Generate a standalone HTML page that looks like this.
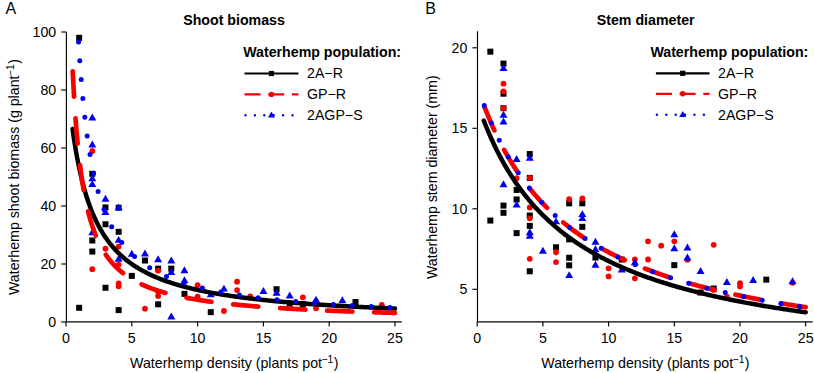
<!DOCTYPE html>
<html><head><meta charset="utf-8"><style>html,body{margin:0;padding:0;background:#fff;width:814px;height:373px;overflow:hidden}svg text{font-family:"Liberation Sans",sans-serif}</style></head><body>
<svg width="814" height="373" viewBox="0 0 814 373" style="display:block">
<rect width="814" height="373" fill="#fff"/>
<defs><clipPath id="ca"><rect x="66" y="31.8" width="336" height="290.2"/></clipPath><clipPath id="cb"><rect x="477.2" y="31.3" width="335.4" height="290.7"/></clipPath></defs>
<text x="5.6" y="14"  font-size="16">A</text>
<text x="425.2" y="14"  font-size="16">B</text>
<text x="183.2" y="24.5"  font-size="14.2" font-weight="bold">Shoot biomass</text>
<text x="596.8" y="24.8"  font-size="14.2" font-weight="bold">Stem diameter</text>
<path d="M66.40 31.80V321.80H401.80" fill="none" stroke="#000" stroke-width="1.15"/>
<line x1="66.00" y1="321.80" x2="66.00" y2="326.40" stroke="#000" stroke-width="1.15"/>
<text x="66.00" y="342.6" text-anchor="middle"  font-size="14.2">0</text>
<line x1="131.80" y1="321.80" x2="131.80" y2="326.40" stroke="#000" stroke-width="1.15"/>
<text x="131.80" y="342.6" text-anchor="middle"  font-size="14.2">5</text>
<line x1="197.60" y1="321.80" x2="197.60" y2="326.40" stroke="#000" stroke-width="1.15"/>
<text x="197.60" y="342.6" text-anchor="middle"  font-size="14.2">10</text>
<line x1="263.40" y1="321.80" x2="263.40" y2="326.40" stroke="#000" stroke-width="1.15"/>
<text x="263.40" y="342.6" text-anchor="middle"  font-size="14.2">15</text>
<line x1="329.20" y1="321.80" x2="329.20" y2="326.40" stroke="#000" stroke-width="1.15"/>
<text x="329.20" y="342.6" text-anchor="middle"  font-size="14.2">20</text>
<line x1="395.00" y1="321.80" x2="395.00" y2="326.40" stroke="#000" stroke-width="1.15"/>
<text x="395.00" y="342.6" text-anchor="middle"  font-size="14.2">25</text>
<line x1="61.20" y1="322.00" x2="66.00" y2="322.00" stroke="#000" stroke-width="1.15"/>
<text x="56.20" y="326.90" text-anchor="end"  font-size="14.2">0</text>
<line x1="61.20" y1="264.00" x2="66.00" y2="264.00" stroke="#000" stroke-width="1.15"/>
<text x="56.20" y="268.90" text-anchor="end"  font-size="14.2">20</text>
<line x1="61.20" y1="206.00" x2="66.00" y2="206.00" stroke="#000" stroke-width="1.15"/>
<text x="56.20" y="210.90" text-anchor="end"  font-size="14.2">40</text>
<line x1="61.20" y1="148.00" x2="66.00" y2="148.00" stroke="#000" stroke-width="1.15"/>
<text x="56.20" y="152.90" text-anchor="end"  font-size="14.2">60</text>
<line x1="61.20" y1="90.00" x2="66.00" y2="90.00" stroke="#000" stroke-width="1.15"/>
<text x="56.20" y="94.90" text-anchor="end"  font-size="14.2">80</text>
<line x1="61.20" y1="32.00" x2="66.00" y2="32.00" stroke="#000" stroke-width="1.15"/>
<text x="56.20" y="36.90" text-anchor="end"  font-size="14.2">100</text>
<path d="M477.50 31.30V321.80H812.60" fill="none" stroke="#000" stroke-width="1.15"/>
<line x1="477.20" y1="321.80" x2="477.20" y2="326.40" stroke="#000" stroke-width="1.15"/>
<text x="477.20" y="342.6" text-anchor="middle"  font-size="14.2">0</text>
<line x1="542.90" y1="321.80" x2="542.90" y2="326.40" stroke="#000" stroke-width="1.15"/>
<text x="542.90" y="342.6" text-anchor="middle"  font-size="14.2">5</text>
<line x1="608.60" y1="321.80" x2="608.60" y2="326.40" stroke="#000" stroke-width="1.15"/>
<text x="608.60" y="342.6" text-anchor="middle"  font-size="14.2">10</text>
<line x1="674.30" y1="321.80" x2="674.30" y2="326.40" stroke="#000" stroke-width="1.15"/>
<text x="674.30" y="342.6" text-anchor="middle"  font-size="14.2">15</text>
<line x1="740.00" y1="321.80" x2="740.00" y2="326.40" stroke="#000" stroke-width="1.15"/>
<text x="740.00" y="342.6" text-anchor="middle"  font-size="14.2">20</text>
<line x1="805.70" y1="321.80" x2="805.70" y2="326.40" stroke="#000" stroke-width="1.15"/>
<text x="805.70" y="342.6" text-anchor="middle"  font-size="14.2">25</text>
<line x1="472.40" y1="289.30" x2="477.20" y2="289.30" stroke="#000" stroke-width="1.15"/>
<text x="467.40" y="294.20" text-anchor="end"  font-size="14.2">5</text>
<line x1="472.40" y1="208.80" x2="477.20" y2="208.80" stroke="#000" stroke-width="1.15"/>
<text x="467.40" y="213.70" text-anchor="end"  font-size="14.2">10</text>
<line x1="472.40" y1="128.30" x2="477.20" y2="128.30" stroke="#000" stroke-width="1.15"/>
<text x="467.40" y="133.20" text-anchor="end"  font-size="14.2">15</text>
<line x1="472.40" y1="47.80" x2="477.20" y2="47.80" stroke="#000" stroke-width="1.15"/>
<text x="467.40" y="52.70" text-anchor="end"  font-size="14.2">20</text>
<text x="130.1" y="368"  font-size="14.2">Waterhemp density (plants pot<tspan font-size="10.4" dx="-0.6" dy="-5.4">−1</tspan><tspan dx="0.4" dy="5.4">)</tspan></text>
<text x="541.3" y="368"  font-size="14.2">Waterhemp density (plants pot<tspan font-size="10.4" dx="-0.6" dy="-5.4">−1</tspan><tspan dx="0.4" dy="5.4">)</tspan></text>
<text transform="translate(19,295) rotate(-90)"  font-size="14.2">Waterhemp shoot biomass (g plant<tspan font-size="10.4" dx="-0.6" dy="-5.4">−1</tspan><tspan dx="0.4" dy="5.4">)</tspan></text>
<text transform="translate(437,279) rotate(-90)"  font-size="14.2">Waterhemp stem diameter (mm)</text>
<text x="243.2" y="56.9"  font-size="14.2" font-weight="bold">Waterhemp population:</text>
<line x1="244.5" y1="73.5" x2="298.4" y2="73.5" stroke="#000" stroke-width="2.2"/>
<rect x="268.85" y="70.90" width="5.2" height="5.2" fill="#000"/>
<line x1="244.5" y1="94.4" x2="298.4" y2="94.4" stroke="#f80000" stroke-width="2.2" stroke-dasharray="16 7.7"/>
<circle cx="271.45" cy="94.40" r="2.7" fill="#f80000"/>
<line x1="245.5" y1="115.2" x2="298.4" y2="115.2" stroke="#0000ee" stroke-width="2.4" stroke-linecap="round" stroke-dasharray="0 9.4"/>
<path d="M271.45 111.44L274.95 117.50L267.95 117.50Z" fill="#0000ee"/>
<text x="307" y="78.2"  font-size="14.2">2A−R</text>
<text x="307" y="99.1"  font-size="14.2">GP−R</text>
<text x="307" y="119.9"  font-size="14.2">2AGP−S</text>
<text x="650.4" y="56.9"  font-size="14.2" font-weight="bold">Waterhemp population:</text>
<line x1="655.9" y1="73.3" x2="709.5" y2="73.3" stroke="#000" stroke-width="2.2"/>
<rect x="680.10" y="70.70" width="5.2" height="5.2" fill="#000"/>
<line x1="655.9" y1="93.8" x2="709.5" y2="93.8" stroke="#f80000" stroke-width="2.2" stroke-dasharray="16 7.7"/>
<circle cx="682.70" cy="93.80" r="2.7" fill="#f80000"/>
<line x1="656.9" y1="114.8" x2="709.5" y2="114.8" stroke="#0000ee" stroke-width="2.4" stroke-linecap="round" stroke-dasharray="0 9.4"/>
<path d="M682.70 111.04L686.20 117.10L679.20 117.10Z" fill="#0000ee"/>
<text x="718" y="78.0"  font-size="14.2">2A−R</text>
<text x="718" y="98.5"  font-size="14.2">GP−R</text>
<text x="718" y="119.5"  font-size="14.2">2AGP−S</text>
<g clip-path="url(#ca)">
<rect x="76.16" y="34.80" width="6.0" height="6.0" fill="#000"/>
<rect x="76.16" y="304.79" width="6.0" height="6.0" fill="#000"/>
<rect x="89.32" y="170.81" width="6.0" height="6.0" fill="#000"/>
<rect x="89.32" y="237.51" width="6.0" height="6.0" fill="#000"/>
<rect x="89.32" y="248.53" width="6.0" height="6.0" fill="#000"/>
<rect x="102.48" y="204.45" width="6.0" height="6.0" fill="#000"/>
<rect x="102.48" y="221.27" width="6.0" height="6.0" fill="#000"/>
<rect x="102.48" y="284.78" width="6.0" height="6.0" fill="#000"/>
<rect x="115.64" y="204.74" width="6.0" height="6.0" fill="#000"/>
<rect x="115.64" y="228.81" width="6.0" height="6.0" fill="#000"/>
<rect x="115.64" y="307.11" width="6.0" height="6.0" fill="#000"/>
<rect x="128.80" y="272.89" width="6.0" height="6.0" fill="#000"/>
<rect x="141.96" y="257.52" width="6.0" height="6.0" fill="#000"/>
<rect x="155.12" y="265.64" width="6.0" height="6.0" fill="#000"/>
<rect x="155.12" y="301.31" width="6.0" height="6.0" fill="#000"/>
<rect x="168.28" y="265.64" width="6.0" height="6.0" fill="#000"/>
<rect x="181.44" y="290.87" width="6.0" height="6.0" fill="#000"/>
<rect x="207.76" y="309.14" width="6.0" height="6.0" fill="#000"/>
<rect x="273.56" y="286.23" width="6.0" height="6.0" fill="#000"/>
<rect x="286.72" y="300.73" width="6.0" height="6.0" fill="#000"/>
<rect x="299.88" y="301.02" width="6.0" height="6.0" fill="#000"/>
<rect x="352.52" y="298.99" width="6.0" height="6.0" fill="#000"/>
<circle cx="92.32" cy="150.90" r="2.9" fill="#f80000"/>
<circle cx="92.32" cy="269.22" r="2.9" fill="#f80000"/>
<circle cx="105.48" cy="248.63" r="2.9" fill="#f80000"/>
<circle cx="118.64" cy="246.60" r="2.9" fill="#f80000"/>
<circle cx="118.64" cy="264.58" r="2.9" fill="#f80000"/>
<circle cx="118.64" cy="283.43" r="2.9" fill="#f80000"/>
<circle cx="118.64" cy="286.33" r="2.9" fill="#f80000"/>
<circle cx="144.96" cy="308.66" r="2.9" fill="#f80000"/>
<circle cx="158.12" cy="270.67" r="2.9" fill="#f80000"/>
<circle cx="158.12" cy="291.55" r="2.9" fill="#f80000"/>
<circle cx="158.12" cy="295.90" r="2.9" fill="#f80000"/>
<circle cx="197.60" cy="285.17" r="2.9" fill="#f80000"/>
<circle cx="197.60" cy="296.77" r="2.9" fill="#f80000"/>
<circle cx="223.92" cy="310.98" r="2.9" fill="#f80000"/>
<circle cx="237.08" cy="281.69" r="2.9" fill="#f80000"/>
<circle cx="237.08" cy="290.10" r="2.9" fill="#f80000"/>
<circle cx="250.24" cy="296.48" r="2.9" fill="#f80000"/>
<circle cx="302.88" cy="297.35" r="2.9" fill="#f80000"/>
<circle cx="316.04" cy="308.37" r="2.9" fill="#f80000"/>
<circle cx="381.84" cy="304.89" r="2.9" fill="#f80000"/>
<path d="M92.32 113.54L96.32 120.47L88.32 120.47Z" fill="#0000ee"/>
<path d="M92.32 140.51L96.32 147.44L88.32 147.44Z" fill="#0000ee"/>
<path d="M92.32 174.44L96.32 181.37L88.32 181.37Z" fill="#0000ee"/>
<path d="M92.32 179.95L96.32 186.88L88.32 186.88Z" fill="#0000ee"/>
<path d="M92.32 228.38L96.32 235.31L88.32 235.31Z" fill="#0000ee"/>
<path d="M105.48 194.74L109.48 201.67L101.48 201.67Z" fill="#0000ee"/>
<path d="M105.48 208.08L109.48 215.01L101.48 215.01Z" fill="#0000ee"/>
<path d="M118.64 203.44L122.64 210.37L114.64 210.37Z" fill="#0000ee"/>
<path d="M118.64 235.92L122.64 242.85L114.64 242.85Z" fill="#0000ee"/>
<path d="M118.64 254.77L122.64 261.70L114.64 261.70Z" fill="#0000ee"/>
<path d="M131.80 249.84L135.80 256.77L127.80 256.77Z" fill="#0000ee"/>
<path d="M144.96 249.55L148.96 256.48L140.96 256.48Z" fill="#0000ee"/>
<path d="M158.12 255.35L162.12 262.28L154.12 262.28Z" fill="#0000ee"/>
<path d="M171.28 256.51L175.28 263.44L167.28 263.44Z" fill="#0000ee"/>
<path d="M171.28 268.11L175.28 275.04L167.28 275.04Z" fill="#0000ee"/>
<path d="M171.28 312.48L175.28 319.41L167.28 319.41Z" fill="#0000ee"/>
<path d="M184.44 266.37L188.44 273.30L180.44 273.30Z" fill="#0000ee"/>
<path d="M184.44 276.23L188.44 283.16L180.44 283.16Z" fill="#0000ee"/>
<path d="M210.76 290.44L214.76 297.37L206.76 297.37Z" fill="#0000ee"/>
<path d="M223.92 284.64L227.92 291.57L219.92 291.57Z" fill="#0000ee"/>
<path d="M263.40 286.96L267.40 293.89L259.40 293.89Z" fill="#0000ee"/>
<path d="M276.56 288.70L280.56 295.63L272.56 295.63Z" fill="#0000ee"/>
<path d="M289.72 291.60L293.72 298.53L285.72 298.53Z" fill="#0000ee"/>
<path d="M316.04 295.66L320.04 302.59L312.04 302.59Z" fill="#0000ee"/>
<path d="M342.36 296.24L346.36 303.17L338.36 303.17Z" fill="#0000ee"/>
<path d="M72.58 129.03 L73.92 138.44 L75.27 146.99 L76.61 154.79 L77.95 161.94 L79.30 168.52 L80.64 174.59 L81.98 180.20 L83.33 185.42 L84.67 190.27 L86.01 194.79 L87.36 199.02 L88.70 202.99 L90.04 206.71 L91.39 210.21 L92.73 213.51 L94.07 216.62 L95.42 219.56 L96.76 222.35 L98.10 224.99 L99.45 227.50 L100.79 229.89 L102.14 232.16 L103.48 234.32 L104.82 236.38 L106.17 238.35 L107.51 240.24 L108.85 242.04 L110.20 243.77 L111.54 245.42 L112.88 247.01 L114.23 248.54 L115.57 250.00 L116.91 251.41 L118.26 252.77 L119.60 254.07 L120.94 255.33 L122.29 256.55 L123.63 257.72 L124.97 258.85 L126.32 259.94 L127.66 261.00 L129.00 262.02 L130.35 263.01 L131.69 263.97 L133.03 264.90 L134.38 265.79 L135.72 266.67 L137.06 267.51 L138.41 268.33 L139.75 269.13 L141.09 269.90 L142.44 270.66 L143.78 271.39 L145.12 272.10 L146.47 272.79 L147.81 273.47 L149.15 274.12 L150.50 274.76 L151.84 275.38 L153.19 275.99 L154.53 276.58 L155.87 277.16 L157.22 277.72 L158.56 278.27 L159.90 278.80 L161.25 279.33 L162.59 279.84 L163.93 280.33 L165.28 280.82 L166.62 281.30 L167.96 281.76 L169.31 282.22 L170.65 282.66 L171.99 283.10 L173.34 283.53 L174.68 283.94 L176.02 284.35 L177.37 284.75 L178.71 285.15 L180.05 285.53 L181.40 285.91 L182.74 286.27 L184.08 286.64 L185.43 286.99 L186.77 287.34 L188.11 287.68 L189.46 288.01 L190.80 288.34 L192.14 288.66 L193.49 288.98 L194.83 289.29 L196.17 289.59 L197.52 289.89 L198.86 290.19 L200.20 290.47 L201.55 290.76 L202.89 291.04 L204.23 291.31 L205.58 291.58 L206.92 291.84 L208.27 292.10 L209.61 292.36 L210.95 292.61 L212.30 292.86 L213.64 293.10 L214.98 293.34 L216.33 293.57 L217.67 293.80 L219.01 294.03 L220.36 294.26 L221.70 294.48 L223.04 294.70 L224.39 294.91 L225.73 295.12 L227.07 295.33 L228.42 295.53 L229.76 295.73 L231.10 295.93 L232.45 296.13 L233.79 296.32 L235.13 296.51 L236.48 296.70 L237.82 296.88 L239.16 297.07 L240.51 297.24 L241.85 297.42 L243.19 297.60 L244.54 297.77 L245.88 297.94 L247.22 298.10 L248.57 298.27 L249.91 298.43 L251.25 298.59 L252.60 298.75 L253.94 298.91 L255.28 299.06 L256.63 299.22 L257.97 299.37 L259.31 299.51 L260.66 299.66 L262.00 299.81 L263.35 299.95 L264.69 300.09 L266.03 300.23 L267.38 300.37 L268.72 300.50 L270.06 300.64 L271.41 300.77 L272.75 300.90 L274.09 301.03 L275.44 301.16 L276.78 301.29 L278.12 301.41 L279.47 301.53 L280.81 301.66 L282.15 301.78 L283.50 301.90 L284.84 302.01 L286.18 302.13 L287.53 302.25 L288.87 302.36 L290.21 302.47 L291.56 302.58 L292.90 302.69 L294.24 302.80 L295.59 302.91 L296.93 303.02 L298.27 303.12 L299.62 303.23 L300.96 303.33 L302.30 303.43 L303.65 303.53 L304.99 303.63 L306.33 303.73 L307.68 303.83 L309.02 303.93 L310.36 304.02 L311.71 304.12 L313.05 304.21 L314.39 304.30 L315.74 304.40 L317.08 304.49 L318.43 304.58 L319.77 304.67 L321.11 304.75 L322.46 304.84 L323.80 304.93 L325.14 305.01 L326.49 305.10 L327.83 305.18 L329.17 305.27 L330.52 305.35 L331.86 305.43 L333.20 305.51 L334.55 305.59 L335.89 305.67 L337.23 305.75 L338.58 305.83 L339.92 305.90 L341.26 305.98 L342.61 306.06 L343.95 306.13 L345.29 306.21 L346.64 306.28 L347.98 306.35 L349.32 306.42 L350.67 306.50 L352.01 306.57 L353.35 306.64 L354.70 306.71 L356.04 306.78 L357.38 306.85 L358.73 306.91 L360.07 306.98 L361.41 307.05 L362.76 307.11 L364.10 307.18 L365.44 307.24 L366.79 307.31 L368.13 307.37 L369.48 307.44 L370.82 307.50 L372.16 307.56 L373.51 307.62 L374.85 307.68 L376.19 307.75 L377.54 307.81 L378.88 307.87 L380.22 307.92 L381.57 307.98 L382.91 308.04 L384.25 308.10 L385.60 308.16 L386.94 308.21 L388.28 308.27 L389.63 308.33 L390.97 308.38 L392.31 308.44 L393.66 308.49 L395.00 308.55" fill="none" stroke="#000" stroke-width="4.5" stroke-linecap="round"/>
<path d="M72.58 68.94 L73.92 94.30 L75.27 115.04 L76.61 132.32 L77.95 146.94 L79.30 159.46 L80.64 170.31 L81.98 179.81 L83.33 188.18 L84.67 195.62 L86.01 202.28 L87.36 208.28 L88.70 213.70 L90.04 218.63 L91.39 223.12 L92.73 227.25 L94.07 231.04 L95.42 234.54 L96.76 237.78 L98.10 240.79 L99.45 243.60 L100.79 246.21 L102.14 248.66 L103.48 250.95 L104.82 253.11 L106.17 255.13 L107.51 257.05 L108.85 258.85 L110.20 260.56 L111.54 262.18 L112.88 263.71 L114.23 265.17 L115.57 266.56 L116.91 267.88 L118.26 269.14 L119.60 270.34 L120.94 271.49 L122.29 272.59 L123.63 273.64 L124.97 274.65 L126.32 275.61 L127.66 276.54 L129.00 277.43 L130.35 278.29 L131.69 279.12 L133.03 279.91 L134.38 280.68 L135.72 281.41 L137.06 282.13 L138.41 282.81 L139.75 283.48 L141.09 284.12 L142.44 284.74 L143.78 285.34 L145.12 285.92 L146.47 286.49 L147.81 287.04 L149.15 287.56 L150.50 288.08 L151.84 288.58 L153.19 289.06 L154.53 289.53 L155.87 289.99 L157.22 290.44 L158.56 290.87 L159.90 291.29 L161.25 291.70 L162.59 292.10 L163.93 292.49 L165.28 292.86 L166.62 293.23 L167.96 293.59 L169.31 293.94 L170.65 294.29 L171.99 294.62 L173.34 294.95 L174.68 295.26 L176.02 295.58 L177.37 295.88 L178.71 296.18 L180.05 296.47 L181.40 296.75 L182.74 297.03 L184.08 297.30 L185.43 297.56 L186.77 297.82 L188.11 298.08 L189.46 298.33 L190.80 298.57 L192.14 298.81 L193.49 299.05 L194.83 299.28 L196.17 299.50 L197.52 299.72 L198.86 299.94 L200.20 300.15 L201.55 300.36 L202.89 300.56 L204.23 300.76 L205.58 300.96 L206.92 301.15 L208.27 301.34 L209.61 301.53 L210.95 301.71 L212.30 301.89 L213.64 302.07 L214.98 302.24 L216.33 302.41 L217.67 302.58 L219.01 302.74 L220.36 302.90 L221.70 303.06 L223.04 303.22 L224.39 303.37 L225.73 303.53 L227.07 303.67 L228.42 303.82 L229.76 303.97 L231.10 304.11 L232.45 304.25 L233.79 304.38 L235.13 304.52 L236.48 304.65 L237.82 304.79 L239.16 304.91 L240.51 305.04 L241.85 305.17 L243.19 305.29 L244.54 305.41 L245.88 305.53 L247.22 305.65 L248.57 305.77 L249.91 305.88 L251.25 306.00 L252.60 306.11 L253.94 306.22 L255.28 306.33 L256.63 306.44 L257.97 306.54 L259.31 306.65 L260.66 306.75 L262.00 306.85 L263.35 306.95 L264.69 307.05 L266.03 307.15 L267.38 307.24 L268.72 307.34 L270.06 307.43 L271.41 307.53 L272.75 307.62 L274.09 307.71 L275.44 307.80 L276.78 307.89 L278.12 307.97 L279.47 308.06 L280.81 308.14 L282.15 308.23 L283.50 308.31 L284.84 308.39 L286.18 308.47 L287.53 308.55 L288.87 308.63 L290.21 308.71 L291.56 308.79 L292.90 308.87 L294.24 308.94 L295.59 309.02 L296.93 309.09 L298.27 309.16 L299.62 309.23 L300.96 309.31 L302.30 309.38 L303.65 309.45 L304.99 309.52 L306.33 309.58 L307.68 309.65 L309.02 309.72 L310.36 309.78 L311.71 309.85 L313.05 309.91 L314.39 309.98 L315.74 310.04 L317.08 310.10 L318.43 310.17 L319.77 310.23 L321.11 310.29 L322.46 310.35 L323.80 310.41 L325.14 310.47 L326.49 310.52 L327.83 310.58 L329.17 310.64 L330.52 310.70 L331.86 310.75 L333.20 310.81 L334.55 310.86 L335.89 310.92 L337.23 310.97 L338.58 311.02 L339.92 311.08 L341.26 311.13 L342.61 311.18 L343.95 311.23 L345.29 311.28 L346.64 311.33 L347.98 311.38 L349.32 311.43 L350.67 311.48 L352.01 311.53 L353.35 311.58 L354.70 311.62 L356.04 311.67 L357.38 311.72 L358.73 311.76 L360.07 311.81 L361.41 311.86 L362.76 311.90 L364.10 311.95 L365.44 311.99 L366.79 312.03 L368.13 312.08 L369.48 312.12 L370.82 312.16 L372.16 312.21 L373.51 312.25 L374.85 312.29 L376.19 312.33 L377.54 312.37 L378.88 312.41 L380.22 312.45 L381.57 312.49 L382.91 312.53 L384.25 312.57 L385.60 312.61 L386.94 312.65 L388.28 312.69 L389.63 312.73 L390.97 312.76 L392.31 312.80 L393.66 312.84 L395.00 312.87" fill="none" stroke="#f80000" stroke-width="4.7" stroke-linecap="round" stroke-dasharray="25.3 21.75" stroke-dashoffset="-2.35"/>
<path d="M72.58 -107.21 L73.92 -61.11 L75.27 -23.95 L76.61 6.64 L77.95 32.26 L79.30 54.02 L80.64 72.75 L81.98 89.03 L83.33 103.31 L84.67 115.95 L86.01 127.20 L87.36 137.29 L88.70 146.38 L90.04 154.62 L91.39 162.13 L92.73 168.98 L94.07 175.28 L95.42 181.08 L96.76 186.43 L98.10 191.40 L99.45 196.01 L100.79 200.31 L102.14 204.32 L103.48 208.08 L104.82 211.61 L106.17 214.92 L107.51 218.04 L108.85 220.99 L110.20 223.77 L111.54 226.40 L112.88 228.90 L114.23 231.26 L115.57 233.52 L116.91 235.66 L118.26 237.70 L119.60 239.64 L120.94 241.50 L122.29 243.28 L123.63 244.98 L124.97 246.61 L126.32 248.17 L127.66 249.67 L129.00 251.10 L130.35 252.48 L131.69 253.81 L133.03 255.09 L134.38 256.32 L135.72 257.51 L137.06 258.66 L138.41 259.76 L139.75 260.83 L141.09 261.86 L142.44 262.86 L143.78 263.82 L145.12 264.76 L146.47 265.66 L147.81 266.54 L149.15 267.39 L150.50 268.21 L151.84 269.01 L153.19 269.78 L154.53 270.54 L155.87 271.27 L157.22 271.98 L158.56 272.67 L159.90 273.35 L161.25 274.00 L162.59 274.64 L163.93 275.26 L165.28 275.86 L166.62 276.45 L167.96 277.03 L169.31 277.59 L170.65 278.13 L171.99 278.67 L173.34 279.19 L174.68 279.69 L176.02 280.19 L177.37 280.67 L178.71 281.15 L180.05 281.61 L181.40 282.06 L182.74 282.50 L184.08 282.94 L185.43 283.36 L186.77 283.77 L188.11 284.18 L189.46 284.58 L190.80 284.97 L192.14 285.35 L193.49 285.72 L194.83 286.08 L196.17 286.44 L197.52 286.79 L198.86 287.14 L200.20 287.47 L201.55 287.81 L202.89 288.13 L204.23 288.45 L205.58 288.76 L206.92 289.07 L208.27 289.37 L209.61 289.67 L210.95 289.96 L212.30 290.24 L213.64 290.52 L214.98 290.80 L216.33 291.07 L217.67 291.33 L219.01 291.59 L220.36 291.85 L221.70 292.10 L223.04 292.35 L224.39 292.60 L225.73 292.84 L227.07 293.07 L228.42 293.31 L229.76 293.54 L231.10 293.76 L232.45 293.98 L233.79 294.20 L235.13 294.42 L236.48 294.63 L237.82 294.84 L239.16 295.04 L240.51 295.24 L241.85 295.44 L243.19 295.64 L244.54 295.83 L245.88 296.02 L247.22 296.21 L248.57 296.40 L249.91 296.58 L251.25 296.76 L252.60 296.94 L253.94 297.11 L255.28 297.28 L256.63 297.45 L257.97 297.62 L259.31 297.79 L260.66 297.95 L262.00 298.11 L263.35 298.27 L264.69 298.43 L266.03 298.58 L267.38 298.73 L268.72 298.89 L270.06 299.03 L271.41 299.18 L272.75 299.33 L274.09 299.47 L275.44 299.61 L276.78 299.75 L278.12 299.89 L279.47 300.02 L280.81 300.16 L282.15 300.29 L283.50 300.42 L284.84 300.55 L286.18 300.68 L287.53 300.81 L288.87 300.93 L290.21 301.06 L291.56 301.18 L292.90 301.30 L294.24 301.42 L295.59 301.54 L296.93 301.65 L298.27 301.77 L299.62 301.88 L300.96 302.00 L302.30 302.11 L303.65 302.22 L304.99 302.33 L306.33 302.44 L307.68 302.54 L309.02 302.65 L310.36 302.75 L311.71 302.86 L313.05 302.96 L314.39 303.06 L315.74 303.16 L317.08 303.26 L318.43 303.36 L319.77 303.45 L321.11 303.55 L322.46 303.64 L323.80 303.74 L325.14 303.83 L326.49 303.92 L327.83 304.01 L329.17 304.10 L330.52 304.19 L331.86 304.28 L333.20 304.37 L334.55 304.46 L335.89 304.54 L337.23 304.63 L338.58 304.71 L339.92 304.79 L341.26 304.88 L342.61 304.96 L343.95 305.04 L345.29 305.12 L346.64 305.20 L347.98 305.28 L349.32 305.36 L350.67 305.43 L352.01 305.51 L353.35 305.59 L354.70 305.66 L356.04 305.74 L357.38 305.81 L358.73 305.88 L360.07 305.96 L361.41 306.03 L362.76 306.10 L364.10 306.17 L365.44 306.24 L366.79 306.31 L368.13 306.38 L369.48 306.45 L370.82 306.51 L372.16 306.58 L373.51 306.65 L374.85 306.71 L376.19 306.78 L377.54 306.84 L378.88 306.91 L380.22 306.97 L381.57 307.03 L382.91 307.10 L384.25 307.16 L385.60 307.22 L386.94 307.28 L388.28 307.34 L389.63 307.40 L390.97 307.46 L392.31 307.52 L393.66 307.58 L395.00 307.64" fill="none" stroke="#0000ee" stroke-width="5" stroke-linecap="round" stroke-dasharray="0 18.89" stroke-dashoffset="1.89"/>
</g>
<g clip-path="url(#cb)">
<rect x="487.34" y="48.66" width="6.0" height="6.0" fill="#000"/>
<rect x="487.34" y="217.55" width="6.0" height="6.0" fill="#000"/>
<rect x="500.48" y="60.58" width="6.0" height="6.0" fill="#000"/>
<rect x="500.48" y="90.69" width="6.0" height="6.0" fill="#000"/>
<rect x="500.48" y="105.17" width="6.0" height="6.0" fill="#000"/>
<rect x="500.48" y="202.58" width="6.0" height="6.0" fill="#000"/>
<rect x="500.48" y="209.82" width="6.0" height="6.0" fill="#000"/>
<rect x="513.62" y="186.96" width="6.0" height="6.0" fill="#000"/>
<rect x="513.62" y="196.46" width="6.0" height="6.0" fill="#000"/>
<rect x="513.62" y="230.11" width="6.0" height="6.0" fill="#000"/>
<rect x="526.76" y="151.06" width="6.0" height="6.0" fill="#000"/>
<rect x="526.76" y="174.89" width="6.0" height="6.0" fill="#000"/>
<rect x="526.76" y="212.56" width="6.0" height="6.0" fill="#000"/>
<rect x="526.76" y="222.87" width="6.0" height="6.0" fill="#000"/>
<rect x="526.76" y="268.27" width="6.0" height="6.0" fill="#000"/>
<rect x="553.04" y="244.28" width="6.0" height="6.0" fill="#000"/>
<rect x="566.18" y="200.33" width="6.0" height="6.0" fill="#000"/>
<rect x="566.18" y="236.39" width="6.0" height="6.0" fill="#000"/>
<rect x="566.18" y="254.74" width="6.0" height="6.0" fill="#000"/>
<rect x="566.18" y="262.31" width="6.0" height="6.0" fill="#000"/>
<rect x="579.32" y="200.33" width="6.0" height="6.0" fill="#000"/>
<rect x="579.32" y="223.83" width="6.0" height="6.0" fill="#000"/>
<rect x="592.46" y="254.58" width="6.0" height="6.0" fill="#000"/>
<rect x="618.74" y="256.51" width="6.0" height="6.0" fill="#000"/>
<rect x="671.30" y="262.15" width="6.0" height="6.0" fill="#000"/>
<rect x="697.58" y="289.52" width="6.0" height="6.0" fill="#000"/>
<rect x="710.72" y="285.50" width="6.0" height="6.0" fill="#000"/>
<rect x="763.28" y="276.64" width="6.0" height="6.0" fill="#000"/>
<circle cx="503.48" cy="83.70" r="2.9" fill="#f80000"/>
<circle cx="503.48" cy="91.43" r="2.9" fill="#f80000"/>
<circle cx="503.48" cy="108.17" r="2.9" fill="#f80000"/>
<circle cx="516.62" cy="178.21" r="2.9" fill="#f80000"/>
<circle cx="529.76" cy="177.89" r="2.9" fill="#f80000"/>
<circle cx="529.76" cy="207.51" r="2.9" fill="#f80000"/>
<circle cx="529.76" cy="218.30" r="2.9" fill="#f80000"/>
<circle cx="529.76" cy="258.87" r="2.9" fill="#f80000"/>
<circle cx="556.04" cy="252.27" r="2.9" fill="#f80000"/>
<circle cx="556.04" cy="262.09" r="2.9" fill="#f80000"/>
<circle cx="569.18" cy="199.14" r="2.9" fill="#f80000"/>
<circle cx="582.32" cy="198.50" r="2.9" fill="#f80000"/>
<circle cx="608.60" cy="268.37" r="2.9" fill="#f80000"/>
<circle cx="608.60" cy="276.42" r="2.9" fill="#f80000"/>
<circle cx="634.88" cy="259.51" r="2.9" fill="#f80000"/>
<circle cx="634.88" cy="278.35" r="2.9" fill="#f80000"/>
<circle cx="648.02" cy="241.32" r="2.9" fill="#f80000"/>
<circle cx="648.02" cy="259.51" r="2.9" fill="#f80000"/>
<circle cx="661.16" cy="245.67" r="2.9" fill="#f80000"/>
<circle cx="674.30" cy="241.32" r="2.9" fill="#f80000"/>
<circle cx="687.44" cy="259.84" r="2.9" fill="#f80000"/>
<circle cx="713.72" cy="244.86" r="2.9" fill="#f80000"/>
<circle cx="713.72" cy="289.94" r="2.9" fill="#f80000"/>
<circle cx="726.86" cy="296.71" r="2.9" fill="#f80000"/>
<circle cx="740.00" cy="283.18" r="2.9" fill="#f80000"/>
<circle cx="740.00" cy="286.40" r="2.9" fill="#f80000"/>
<circle cx="792.56" cy="282.86" r="2.9" fill="#f80000"/>
<path d="M503.48 64.11L507.48 71.04L499.48 71.04Z" fill="#0000ee"/>
<path d="M503.48 110.80L507.48 117.73L499.48 117.73Z" fill="#0000ee"/>
<path d="M503.48 117.56L507.48 124.49L499.48 124.49Z" fill="#0000ee"/>
<path d="M503.48 180.35L507.48 187.28L499.48 187.28Z" fill="#0000ee"/>
<path d="M516.62 155.08L520.62 162.01L512.62 162.01Z" fill="#0000ee"/>
<path d="M516.62 200.64L520.62 207.57L512.62 207.57Z" fill="#0000ee"/>
<path d="M529.76 153.79L533.76 160.72L525.76 160.72Z" fill="#0000ee"/>
<path d="M529.76 228.33L533.76 235.26L525.76 235.26Z" fill="#0000ee"/>
<path d="M529.76 231.71L533.76 238.64L525.76 238.64Z" fill="#0000ee"/>
<path d="M542.90 246.85L546.90 253.78L538.90 253.78Z" fill="#0000ee"/>
<path d="M556.04 217.38L560.04 224.31L552.04 224.31Z" fill="#0000ee"/>
<path d="M569.18 271.16L573.18 278.09L565.18 278.09Z" fill="#0000ee"/>
<path d="M582.32 210.14L586.32 217.07L578.32 217.07Z" fill="#0000ee"/>
<path d="M582.32 214.16L586.32 221.09L578.32 221.09Z" fill="#0000ee"/>
<path d="M595.46 237.83L599.46 244.76L591.46 244.76Z" fill="#0000ee"/>
<path d="M595.46 245.24L599.46 252.17L591.46 252.17Z" fill="#0000ee"/>
<path d="M595.46 260.85L599.46 267.78L591.46 267.78Z" fill="#0000ee"/>
<path d="M621.74 265.68L625.74 272.61L617.74 272.61Z" fill="#0000ee"/>
<path d="M634.88 258.28L638.88 265.21L630.88 265.21Z" fill="#0000ee"/>
<path d="M674.30 230.26L678.30 237.19L670.30 237.19Z" fill="#0000ee"/>
<path d="M674.30 244.27L678.30 251.20L670.30 251.20Z" fill="#0000ee"/>
<path d="M687.44 243.47L691.44 250.39L683.44 250.39Z" fill="#0000ee"/>
<path d="M687.44 253.45L691.44 260.38L683.44 260.38Z" fill="#0000ee"/>
<path d="M700.58 266.97L704.58 273.90L696.58 273.90Z" fill="#0000ee"/>
<path d="M726.86 278.08L730.86 285.01L722.86 285.01Z" fill="#0000ee"/>
<path d="M753.14 275.99L757.14 282.92L749.14 282.92Z" fill="#0000ee"/>
<path d="M792.56 277.28L796.56 284.20L788.56 284.20Z" fill="#0000ee"/>
<path d="M483.77 120.54 L485.11 123.96 L486.45 127.28 L487.79 130.51 L489.14 133.66 L490.48 136.73 L491.82 139.72 L493.16 142.63 L494.50 145.47 L495.84 148.24 L497.18 150.94 L498.53 153.58 L499.87 156.15 L501.21 158.67 L502.55 161.12 L503.89 163.52 L505.23 165.87 L506.57 168.16 L507.91 170.40 L509.26 172.59 L510.60 174.73 L511.94 176.83 L513.28 178.88 L514.62 180.89 L515.96 182.86 L517.30 184.79 L518.65 186.68 L519.99 188.53 L521.33 190.34 L522.67 192.12 L524.01 193.86 L525.35 195.57 L526.69 197.24 L528.04 198.89 L529.38 200.50 L530.72 202.08 L532.06 203.63 L533.40 205.16 L534.74 206.65 L536.08 208.12 L537.42 209.57 L538.77 210.99 L540.11 212.38 L541.45 213.75 L542.79 215.09 L544.13 216.42 L545.47 217.72 L546.81 218.99 L548.16 220.25 L549.50 221.49 L550.84 222.70 L552.18 223.90 L553.52 225.08 L554.86 226.23 L556.20 227.37 L557.55 228.49 L558.89 229.60 L560.23 230.69 L561.57 231.76 L562.91 232.81 L564.25 233.85 L565.59 234.87 L566.94 235.88 L568.28 236.87 L569.62 237.85 L570.96 238.81 L572.30 239.76 L573.64 240.69 L574.98 241.62 L576.32 242.53 L577.67 243.42 L579.01 244.31 L580.35 245.18 L581.69 246.04 L583.03 246.88 L584.37 247.72 L585.71 248.55 L587.06 249.36 L588.40 250.16 L589.74 250.95 L591.08 251.74 L592.42 252.51 L593.76 253.27 L595.10 254.02 L596.45 254.76 L597.79 255.50 L599.13 256.22 L600.47 256.93 L601.81 257.64 L603.15 258.34 L604.49 259.02 L605.84 259.70 L607.18 260.38 L608.52 261.04 L609.86 261.69 L611.20 262.34 L612.54 262.98 L613.88 263.61 L615.22 264.24 L616.57 264.86 L617.91 265.47 L619.25 266.07 L620.59 266.66 L621.93 267.25 L623.27 267.84 L624.61 268.41 L625.96 268.98 L627.30 269.55 L628.64 270.10 L629.98 270.65 L631.32 271.20 L632.66 271.74 L634.00 272.27 L635.35 272.80 L636.69 273.32 L638.03 273.83 L639.37 274.35 L640.71 274.85 L642.05 275.35 L643.39 275.84 L644.74 276.33 L646.08 276.82 L647.42 277.30 L648.76 277.77 L650.10 278.24 L651.44 278.71 L652.78 279.17 L654.12 279.62 L655.47 280.07 L656.81 280.52 L658.15 280.96 L659.49 281.40 L660.83 281.83 L662.17 282.26 L663.51 282.69 L664.86 283.11 L666.20 283.52 L667.54 283.94 L668.88 284.35 L670.22 284.75 L671.56 285.15 L672.90 285.55 L674.25 285.94 L675.59 286.33 L676.93 286.72 L678.27 287.10 L679.61 287.48 L680.95 287.86 L682.29 288.23 L683.63 288.60 L684.98 288.96 L686.32 289.33 L687.66 289.69 L689.00 290.04 L690.34 290.40 L691.68 290.75 L693.02 291.09 L694.37 291.44 L695.71 291.78 L697.05 292.11 L698.39 292.45 L699.73 292.78 L701.07 293.11 L702.41 293.44 L703.76 293.76 L705.10 294.08 L706.44 294.40 L707.78 294.71 L709.12 295.03 L710.46 295.34 L711.80 295.65 L713.15 295.95 L714.49 296.25 L715.83 296.55 L717.17 296.85 L718.51 297.15 L719.85 297.44 L721.19 297.73 L722.53 298.02 L723.88 298.30 L725.22 298.59 L726.56 298.87 L727.90 299.15 L729.24 299.43 L730.58 299.70 L731.92 299.97 L733.27 300.24 L734.61 300.51 L735.95 300.78 L737.29 301.04 L738.63 301.31 L739.97 301.57 L741.31 301.83 L742.66 302.08 L744.00 302.34 L745.34 302.59 L746.68 302.84 L748.02 303.09 L749.36 303.34 L750.70 303.58 L752.05 303.82 L753.39 304.07 L754.73 304.31 L756.07 304.54 L757.41 304.78 L758.75 305.02 L760.09 305.25 L761.43 305.48 L762.78 305.71 L764.12 305.94 L765.46 306.16 L766.80 306.39 L768.14 306.61 L769.48 306.83 L770.82 307.05 L772.17 307.27 L773.51 307.49 L774.85 307.71 L776.19 307.92 L777.53 308.13 L778.87 308.34 L780.21 308.55 L781.56 308.76 L782.90 308.97 L784.24 309.17 L785.58 309.38 L786.92 309.58 L788.26 309.78 L789.60 309.98 L790.94 310.18 L792.29 310.38 L793.63 310.57 L794.97 310.77 L796.31 310.96 L797.65 311.16 L798.99 311.35 L800.33 311.54 L801.68 311.72 L803.02 311.91 L804.36 312.10 L805.70 312.28" fill="none" stroke="#000" stroke-width="4.5" stroke-linecap="round"/>
<path d="M483.77 104.87 L485.11 108.39 L486.45 111.81 L487.79 115.15 L489.14 118.40 L490.48 121.58 L491.82 124.67 L493.16 127.68 L494.50 130.63 L495.84 133.50 L497.18 136.30 L498.53 139.04 L499.87 141.72 L501.21 144.33 L502.55 146.88 L503.89 149.38 L505.23 151.82 L506.57 154.21 L507.91 156.55 L509.26 158.83 L510.60 161.07 L511.94 163.26 L513.28 165.41 L514.62 167.51 L515.96 169.57 L517.30 171.58 L518.65 173.56 L519.99 175.50 L521.33 177.40 L522.67 179.26 L524.01 181.09 L525.35 182.88 L526.69 184.64 L528.04 186.37 L529.38 188.06 L530.72 189.72 L532.06 191.36 L533.40 192.96 L534.74 194.53 L536.08 196.08 L537.42 197.60 L538.77 199.10 L540.11 200.56 L541.45 202.01 L542.79 203.43 L544.13 204.82 L545.47 206.19 L546.81 207.54 L548.16 208.87 L549.50 210.17 L550.84 211.46 L552.18 212.72 L553.52 213.97 L554.86 215.19 L556.20 216.40 L557.55 217.58 L558.89 218.75 L560.23 219.90 L561.57 221.04 L562.91 222.15 L564.25 223.25 L565.59 224.33 L566.94 225.40 L568.28 226.45 L569.62 227.49 L570.96 228.51 L572.30 229.52 L573.64 230.51 L574.98 231.49 L576.32 232.46 L577.67 233.41 L579.01 234.35 L580.35 235.27 L581.69 236.19 L583.03 237.09 L584.37 237.98 L585.71 238.85 L587.06 239.72 L588.40 240.57 L589.74 241.42 L591.08 242.25 L592.42 243.07 L593.76 243.88 L595.10 244.68 L596.45 245.47 L597.79 246.25 L599.13 247.02 L600.47 247.79 L601.81 248.54 L603.15 249.28 L604.49 250.01 L605.84 250.74 L607.18 251.45 L608.52 252.16 L609.86 252.86 L611.20 253.55 L612.54 254.23 L613.88 254.91 L615.22 255.58 L616.57 256.24 L617.91 256.89 L619.25 257.53 L620.59 258.17 L621.93 258.80 L623.27 259.42 L624.61 260.04 L625.96 260.65 L627.30 261.25 L628.64 261.84 L629.98 262.43 L631.32 263.01 L632.66 263.59 L634.00 264.16 L635.35 264.73 L636.69 265.28 L638.03 265.84 L639.37 266.38 L640.71 266.92 L642.05 267.46 L643.39 267.99 L644.74 268.51 L646.08 269.03 L647.42 269.54 L648.76 270.05 L650.10 270.55 L651.44 271.05 L652.78 271.55 L654.12 272.03 L655.47 272.52 L656.81 273.00 L658.15 273.47 L659.49 273.94 L660.83 274.40 L662.17 274.86 L663.51 275.32 L664.86 275.77 L666.20 276.22 L667.54 276.66 L668.88 277.10 L670.22 277.53 L671.56 277.97 L672.90 278.39 L674.25 278.81 L675.59 279.23 L676.93 279.65 L678.27 280.06 L679.61 280.47 L680.95 280.87 L682.29 281.27 L683.63 281.67 L684.98 282.06 L686.32 282.45 L687.66 282.84 L689.00 283.22 L690.34 283.60 L691.68 283.97 L693.02 284.35 L694.37 284.72 L695.71 285.08 L697.05 285.45 L698.39 285.81 L699.73 286.16 L701.07 286.52 L702.41 286.87 L703.76 287.22 L705.10 287.56 L706.44 287.90 L707.78 288.24 L709.12 288.58 L710.46 288.91 L711.80 289.24 L713.15 289.57 L714.49 289.90 L715.83 290.22 L717.17 290.54 L718.51 290.86 L719.85 291.18 L721.19 291.49 L722.53 291.80 L723.88 292.11 L725.22 292.41 L726.56 292.72 L727.90 293.02 L729.24 293.31 L730.58 293.61 L731.92 293.90 L733.27 294.20 L734.61 294.49 L735.95 294.77 L737.29 295.06 L738.63 295.34 L739.97 295.62 L741.31 295.90 L742.66 296.18 L744.00 296.45 L745.34 296.72 L746.68 296.99 L748.02 297.26 L749.36 297.53 L750.70 297.79 L752.05 298.06 L753.39 298.32 L754.73 298.57 L756.07 298.83 L757.41 299.09 L758.75 299.34 L760.09 299.59 L761.43 299.84 L762.78 300.09 L764.12 300.33 L765.46 300.58 L766.80 300.82 L768.14 301.06 L769.48 301.30 L770.82 301.54 L772.17 301.78 L773.51 302.01 L774.85 302.24 L776.19 302.47 L777.53 302.70 L778.87 302.93 L780.21 303.16 L781.56 303.38 L782.90 303.61 L784.24 303.83 L785.58 304.05 L786.92 304.27 L788.26 304.48 L789.60 304.70 L790.94 304.92 L792.29 305.13 L793.63 305.34 L794.97 305.55 L796.31 305.76 L797.65 305.97 L798.99 306.17 L800.33 306.38 L801.68 306.58 L803.02 306.79 L804.36 306.99 L805.70 307.19" fill="none" stroke="#f80000" stroke-width="4.7" stroke-linecap="round" stroke-dasharray="25.3 21.8" stroke-dashoffset="-2.35"/>
<path d="M483.77 104.21 L485.11 107.76 L486.45 111.22 L487.79 114.58 L489.14 117.86 L490.48 121.06 L491.82 124.18 L493.16 127.22 L494.50 130.19 L495.84 133.08 L497.18 135.91 L498.53 138.66 L499.87 141.36 L501.21 143.99 L502.55 146.56 L503.89 149.08 L505.23 151.54 L506.57 153.94 L507.91 156.29 L509.26 158.59 L510.60 160.84 L511.94 163.05 L513.28 165.21 L514.62 167.32 L515.96 169.39 L517.30 171.42 L518.65 173.41 L519.99 175.36 L521.33 177.27 L522.67 179.14 L524.01 180.98 L525.35 182.78 L526.69 184.55 L528.04 186.28 L529.38 187.98 L530.72 189.66 L532.06 191.30 L533.40 192.91 L534.74 194.49 L536.08 196.05 L537.42 197.57 L538.77 199.07 L540.11 200.55 L541.45 202.00 L542.79 203.42 L544.13 204.82 L545.47 206.20 L546.81 207.55 L548.16 208.89 L549.50 210.20 L550.84 211.49 L552.18 212.75 L553.52 214.00 L554.86 215.23 L556.20 216.44 L557.55 217.63 L558.89 218.80 L560.23 219.96 L561.57 221.10 L562.91 222.22 L564.25 223.32 L565.59 224.41 L566.94 225.48 L568.28 226.53 L569.62 227.57 L570.96 228.60 L572.30 229.61 L573.64 230.60 L574.98 231.58 L576.32 232.55 L577.67 233.51 L579.01 234.45 L580.35 235.38 L581.69 236.29 L583.03 237.20 L584.37 238.09 L585.71 238.97 L587.06 239.83 L588.40 240.69 L589.74 241.53 L591.08 242.37 L592.42 243.19 L593.76 244.00 L595.10 244.81 L596.45 245.60 L597.79 246.38 L599.13 247.15 L600.47 247.92 L601.81 248.67 L603.15 249.41 L604.49 250.15 L605.84 250.88 L607.18 251.59 L608.52 252.30 L609.86 253.00 L611.20 253.69 L612.54 254.38 L613.88 255.05 L615.22 255.72 L616.57 256.38 L617.91 257.03 L619.25 257.68 L620.59 258.32 L621.93 258.95 L623.27 259.57 L624.61 260.19 L625.96 260.80 L627.30 261.40 L628.64 262.00 L629.98 262.59 L631.32 263.17 L632.66 263.75 L634.00 264.32 L635.35 264.88 L636.69 265.44 L638.03 265.99 L639.37 266.54 L640.71 267.08 L642.05 267.62 L643.39 268.15 L644.74 268.67 L646.08 269.19 L647.42 269.71 L648.76 270.21 L650.10 270.72 L651.44 271.22 L652.78 271.71 L654.12 272.20 L655.47 272.68 L656.81 273.16 L658.15 273.63 L659.49 274.10 L660.83 274.57 L662.17 275.03 L663.51 275.49 L664.86 275.94 L666.20 276.39 L667.54 276.83 L668.88 277.27 L670.22 277.70 L671.56 278.13 L672.90 278.56 L674.25 278.98 L675.59 279.40 L676.93 279.82 L678.27 280.23 L679.61 280.64 L680.95 281.04 L682.29 281.44 L683.63 281.84 L684.98 282.23 L686.32 282.62 L687.66 283.00 L689.00 283.39 L690.34 283.77 L691.68 284.14 L693.02 284.52 L694.37 284.89 L695.71 285.25 L697.05 285.61 L698.39 285.97 L699.73 286.33 L701.07 286.69 L702.41 287.04 L703.76 287.38 L705.10 287.73 L706.44 288.07 L707.78 288.41 L709.12 288.75 L710.46 289.08 L711.80 289.41 L713.15 289.74 L714.49 290.07 L715.83 290.39 L717.17 290.71 L718.51 291.03 L719.85 291.34 L721.19 291.66 L722.53 291.97 L723.88 292.28 L725.22 292.58 L726.56 292.88 L727.90 293.18 L729.24 293.48 L730.58 293.78 L731.92 294.07 L733.27 294.36 L734.61 294.65 L735.95 294.94 L737.29 295.23 L738.63 295.51 L739.97 295.79 L741.31 296.07 L742.66 296.34 L744.00 296.62 L745.34 296.89 L746.68 297.16 L748.02 297.43 L749.36 297.69 L750.70 297.96 L752.05 298.22 L753.39 298.48 L754.73 298.74 L756.07 299.00 L757.41 299.25 L758.75 299.51 L760.09 299.76 L761.43 300.01 L762.78 300.25 L764.12 300.50 L765.46 300.74 L766.80 300.99 L768.14 301.23 L769.48 301.47 L770.82 301.70 L772.17 301.94 L773.51 302.17 L774.85 302.41 L776.19 302.64 L777.53 302.87 L778.87 303.09 L780.21 303.32 L781.56 303.55 L782.90 303.77 L784.24 303.99 L785.58 304.21 L786.92 304.43 L788.26 304.65 L789.60 304.86 L790.94 305.08 L792.29 305.29 L793.63 305.50 L794.97 305.71 L796.31 305.92 L797.65 306.13 L798.99 306.33 L800.33 306.54 L801.68 306.74 L803.02 306.95 L804.36 307.15 L805.70 307.35" fill="none" stroke="#0000ee" stroke-width="5" stroke-linecap="round" stroke-dasharray="0 18.88" stroke-dashoffset="-1.41"/>
</g>
</svg>
</body></html>
